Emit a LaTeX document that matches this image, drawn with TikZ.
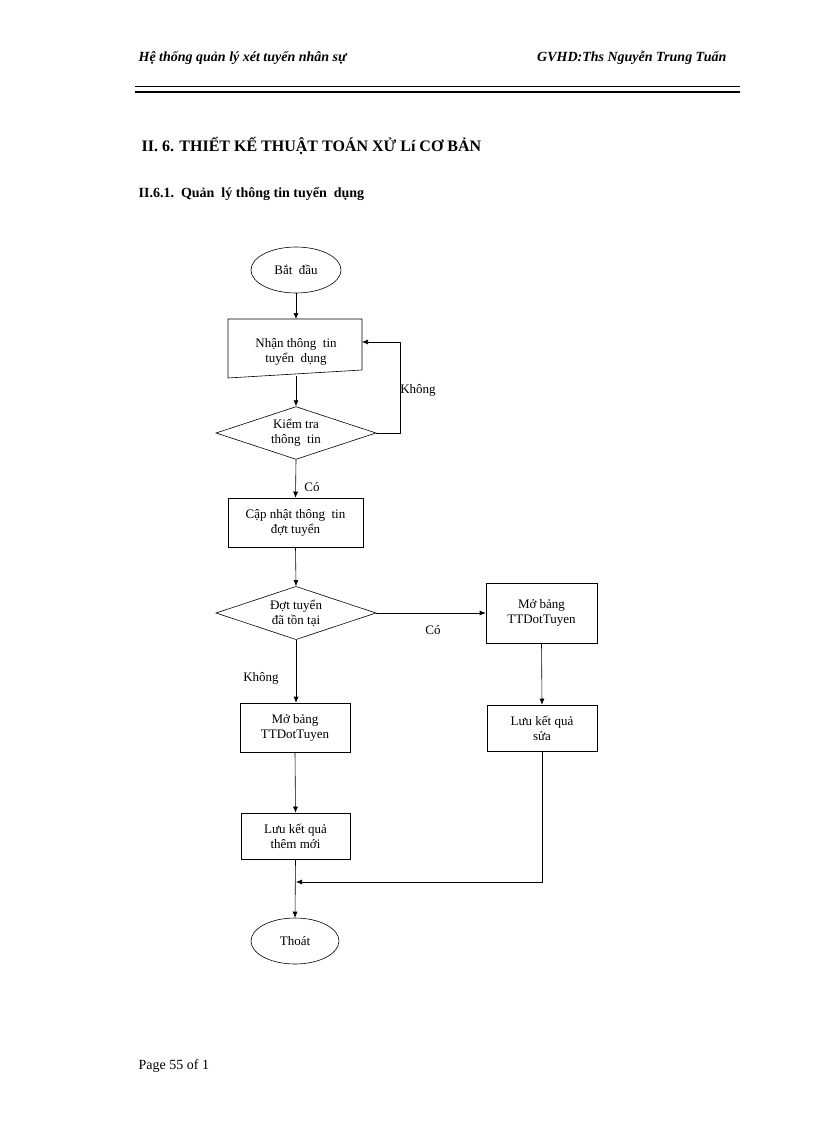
\documentclass[tikz,border=0pt]{standalone}
\usepackage{fontspec}
\setmainfont{Liberation Serif}
\usetikzlibrary{shapes.geometric,arrows.meta}
\tikzset{
  txt/.style={font=\fontsize{13}{15}\selectfont, align=center, inner sep=0pt},
  term/.style={draw, ellipse, minimum width=#1, minimum height=46pt, txt},
  proc/.style={draw, rectangle, txt},
  cond/.style={draw, diamond, aspect=1.95, minimum width=160pt, txt},
  flow/.style={-{Latex[length=6pt,width=5pt]}, line width=0.6pt},
}
\begin{document}
\begin{tikzpicture}[x=1pt,y=-1pt,line width=0.6pt]
\useasboundingbox (0,0) rectangle (816,1123);
% header
\node[anchor=west, font=\fontsize{14}{16}\selectfont\bfseries\itshape] (hleft) at (135,58) {Hệ thống quản lý xét tuyển nhân sự};
\node[anchor=east, font=\fontsize{14}{16}\selectfont\bfseries\itshape] (hright) at (730,58) {GVHD:Ths Nguyễn Trung Tuấn};
\draw[line width=0.5pt] (135,86) -- (740,86);
\draw[line width=2pt] (135,92) -- (740,92);
\node[anchor=west, font=\fontsize{16}{18}\selectfont\bfseries] (title) at (138,146) {II. 6. THIẾT KẾ THUẬT TOÁN XỬ Lí CƠ BẢN};
\node[anchor=west, font=\fontsize{14}{16}\selectfont\bfseries] (sub) at (135,194) {II.6.1.\ \ Quản\ \ lý thông tin tuyển\ \ dụng};
\node[anchor=west, font=\fontsize{14}{16}\selectfont] (page) at (135,1066) {Page 55 of 1};

% flowchart
\node[term=90pt] (start) at (296,270) {Bắt\ \ đầu};
\draw (228,319) -- (362,319) -- (362,370) -- (228,378) -- cycle;
\node[txt] (nhan) at (296,352) {Nhận thông\ \ tin\\tuyển\ \ dụng};
\coordinate (nhanT) at (296,319);
\coordinate (nhanB) at (296,376);
\coordinate (nhanR) at (362,342);
\node[cond] (kt) at (296,433) {Kiểm tra\\thông\ \ tin};
\node[proc, minimum width=135pt, minimum height=49pt] (capnhat) at (295.5,522.5) {Cập nhật thông\ \ tin\\đợt tuyển};
\node[cond] (dot) at (296,613) {Đợt tuyển\\đã tồn tại};
\node[proc, minimum width=111pt, minimum height=60pt] (mo1) at (541.5,613) {Mở bảng\\TTDotTuyen};
\node[proc, minimum width=110pt, minimum height=46pt] (luu1) at (542,728) {Lưu kết quả\\sửa};
\node[proc, minimum width=110pt, minimum height=49pt] (mo2) at (295,727.5) {Mở bảng\\TTDotTuyen};
\node[proc, minimum width=109pt, minimum height=46pt] (luu2) at (295.5,836) {Lưu kết quả\\thêm mới};
\node[term=88pt] (thoat) at (295,941) {Thoát};
\coordinate (loop1) at (400,433);
\coordinate (loop2) at (400,342);
\coordinate (merge) at (542,882);
\coordinate (mergeL) at (296,882);

\draw[flow] (start) -- (nhanT);
\draw[flow] (nhanB) -- (kt.north);
\draw[flow] (kt.east) -- (loop1) -- (loop2) -- (nhanR);
\node[txt, anchor=west] (khong1) at (400,390) {Không};
\draw[flow] (kt.south) -- (capnhat.north);
\node[txt] (co1) at (312,487) {Có};
\draw[flow] (capnhat.south) -- (dot.north);
\draw[flow] (dot.east) -- (mo1.west);
\node[txt] (co2) at (433,630) {Có};
\draw[flow] (dot.south) -- (mo2.north -| dot.south);
\node[txt] (khong2) at (261,678) {Không};
\draw[flow] (mo1.south) -- (luu1.north);
\draw[flow] (mo2.south) -- (luu2.north);
\draw[flow] (luu2.south) -- (thoat.north);
\draw[flow] (luu1.south) -- (merge) -- (mergeL);
\end{tikzpicture}
\end{document}
